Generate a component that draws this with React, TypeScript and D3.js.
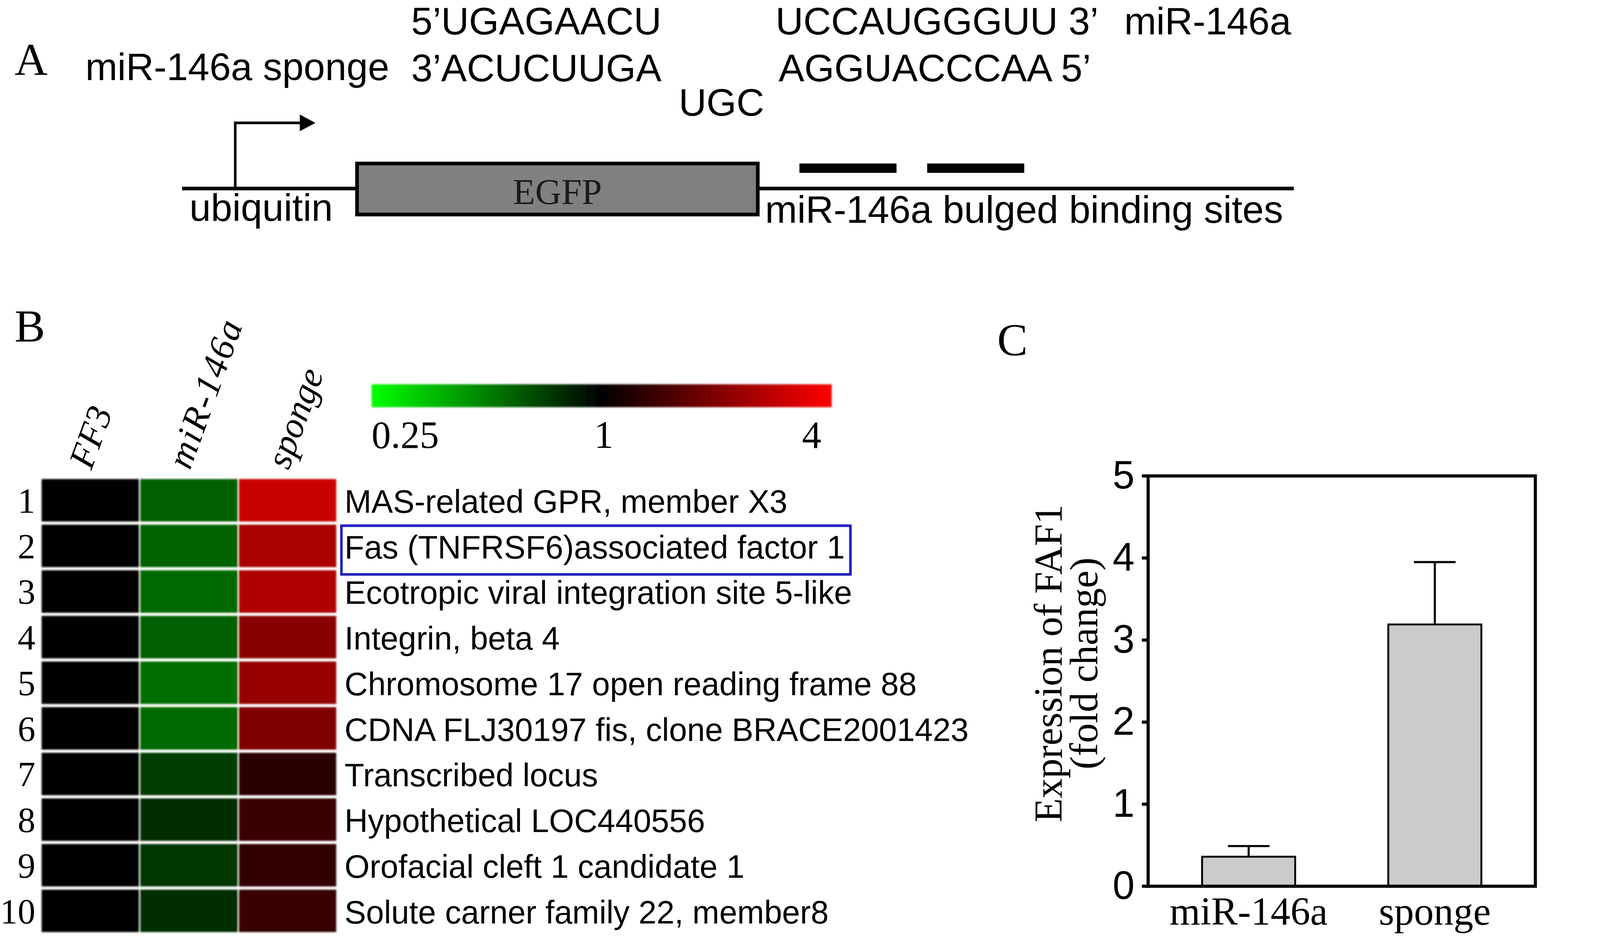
import { range, scaleBand, scaleLinear, scaleLog } from "d3";
import type { ReactElement } from "react";

// ---- panel A: construct labels ----
const SPONGE_NAME = "miR-146a sponge";
const MIR_NAME = "miR-146a";
const MIR_TOP_LEFT = "5\u2019UGAGAACU";
const MIR_TOP_RIGHT = "UCCAUGGGUU 3\u2019";
const SPONGE_BOTTOM_LEFT = "3\u2019ACUCUUGA";
const SPONGE_BOTTOM_RIGHT = "AGGUACCCAA 5\u2019";
const BULGE = "UGC";
const PROMOTER = "ubiquitin";
const REPORTER = "EGFP";
const SITES_LABEL = "miR-146a bulged binding sites";
const BINDING_SITES = [0, 1];

// ---- panel B: heatmap ----
const CONDITIONS = ["FF3", "miR-146a", "sponge"];
const GENES = [
  "MAS-related GPR, member X3",
  "Fas (TNFRSF6)associated factor 1",
  "Ecotropic viral integration site 5-like",
  "Integrin, beta 4",
  "Chromosome 17 open reading frame 88",
  "CDNA FLJ30197 fis, clone BRACE2001423",
  "Transcribed locus",
  "Hypothetical LOC440556",
  "Orofacial cleft 1 candidate 1",
  "Solute carner family 22, member8",
];
const FF3_FOLD = [1, 1, 1, 1, 1, 1, 1, 1, 1, 1];
const MIR146A_FOLD = [0.59, 0.58, 0.56, 0.6, 0.55, 0.56, 0.72, 0.78, 0.74, 0.78];
const SPONGE_FOLD = [2.97, 2.52, 2.6, 2.09, 2.26, 2.01, 1.26, 1.36, 1.3, 1.36];
const LEGEND_TICKS = [0.25, 1, 4];
const HIGHLIGHT_ROW = 1;

// ---- panel C: FAF1 bars ----
const BAR_GROUPS = ["miR-146a", "sponge"];
const BAR_MEANS = [0.36, 3.19];
const BAR_ERRORS = [0.13, 0.76];
const Y_TICKS = [0, 1, 2, 3, 4, 5];

const W = 1560;
const H = (W * 2395) / 4157;
const SANS = "'Liberation Sans', Arial, sans-serif";
const SERIF = "'Liberation Serif', 'Times New Roman', serif";

const colour = scaleLog<string>()
  .base(2)
  .domain([0.25, 1, 4])
  .range(["#00ff00", "#000000", "#ff0000"])
  .clamp(true);

const PanelA = (): ReactElement => {
  const lineY = 181;
  const box = { x0: 343, x1: 728, y0: 157, y1: 206 };
  const siteX = scaleBand<number>().domain(BINDING_SITES).range([768, 984]).paddingInner(0.24);
  const seqSize = 37;

  return (
    <g>
      <text x={14} y={72} fontFamily={SERIF} fontSize={44}>A</text>
      <g fontFamily={SANS} fontSize={seqSize} fill="#000">
        <text x={395} y={33}>{MIR_TOP_LEFT}</text>
        <text x={745} y={33}>{MIR_TOP_RIGHT}</text>
        <text x={1080} y={33}>{MIR_NAME}</text>
        <text x={82} y={77}>{SPONGE_NAME}</text>
        <text x={395} y={78}>{SPONGE_BOTTOM_LEFT}</text>
        <text x={748} y={78}>{SPONGE_BOTTOM_RIGHT}</text>
        <text x={652} y={111}>{BULGE}</text>
        <text x={182} y={212}>{PROMOTER}</text>
        <text x={735} y={214}>{SITES_LABEL}</text>
      </g>

      <line x1={175} x2={box.x0} y1={lineY} y2={lineY} stroke="#000" strokeWidth={3.5} />
      <line x1={box.x1} x2={1243} y1={lineY} y2={lineY} stroke="#000" strokeWidth={3.5} />

      <path d={`M226,${lineY} V118 H291`} fill="none" stroke="#000" strokeWidth={2.5} />
      <path d="M288,110 L303,118 L288,126 Z" fill="#000" />

      <rect
        x={box.x0}
        y={box.y0}
        width={box.x1 - box.x0}
        height={box.y1 - box.y0}
        fill="#808080"
        stroke="#000"
        strokeWidth={3.5}
      />
      <text
        x={(box.x0 + box.x1) / 2}
        y={196}
        textAnchor="middle"
        fontFamily={SERIF}
        fontSize={35}
        fill="#1a1a1a"
      >
        {REPORTER}
      </text>

      {BINDING_SITES.map((s) => (
        <rect key={s} x={siteX(s)} y={157} width={siteX.bandwidth()} height={9} fill="#000" />
      ))}
    </g>
  );
};

const PanelB = (): ReactElement => {
  const rows = scaleBand<number>().domain(range(GENES.length)).range([460, 895]).paddingInner(0.07);
  const cols = scaleBand<string>().domain(CONDITIONS).range([40, 323]).paddingInner(0.015);
  const matrix = [FF3_FOLD, MIR146A_FOLD, SPONGE_FOLD];

  const legendX = scaleLog().base(2).domain([0.25, 4]).range([357, 799]);
  const legendStops = range(0, 1.0001, 0.05).map((t) => ({
    t,
    c: colour(Math.pow(2, -2 + 4 * t)),
  }));

  return (
    <g>
      <defs>
        <filter id="soft" x="-5%" y="-20%" width="110%" height="140%">
          <feGaussianBlur stdDeviation={0.7} />
        </filter>
        <linearGradient id="legend-grad" x1="0" x2="1" y1="0" y2="0">
          {legendStops.map((s) => (
            <stop key={s.t} offset={s.t} stopColor={s.c} />
          ))}
        </linearGradient>
      </defs>

      <text x={14} y={328} fontFamily={SERIF} fontSize={44}>B</text>

      {CONDITIONS.map((c) => {
        const x = (cols(c) ?? 0) + cols.bandwidth() / 2 + 1;
        return (
          <text
            key={c}
            transform={`translate(${x},452) rotate(-70)`}
            fontFamily={SERIF}
            fontStyle="italic"
            fontSize={35}
            letterSpacing={c === "miR-146a" ? 1.5 : 0}
          >
            {c}
          </text>
        );
      })}

      <rect x={legendX(0.25)} y={369} width={legendX(4) - legendX(0.25)} height={22} fill="url(#legend-grad)" filter="url(#soft)" />
      {LEGEND_TICKS.map((t, i) => (
        <text
          key={t}
          x={legendX(t) + (i === 0 ? 0 : i === LEGEND_TICKS.length - 1 ? -10 : 2)}
          y={430}
          textAnchor={i === 0 ? "start" : i === LEGEND_TICKS.length - 1 ? "end" : "middle"}
          fontFamily={SERIF}
          fontSize={37}
        >
          {t}
        </text>
      ))}

      <g filter="url(#soft)">
        {GENES.map((_, r) =>
          CONDITIONS.map((c, ci) => (
            <rect
              key={`${r}-${c}`}
              x={cols(c)}
              y={rows(r)}
              width={cols.bandwidth()}
              height={rows.bandwidth()}
              fill={colour(matrix[ci][r])}
            />
          ))
        )}
      </g>

      {GENES.map((g, r) => {
        const cy = (rows(r) ?? 0) + rows.bandwidth() / 2;
        return (
          <g key={g}>
            <text x={34} y={cy + 12} textAnchor="end" fontFamily={SERIF} fontSize={34}>
              {r + 1}
            </text>
            <text x={331} y={cy + 12} fontFamily={SANS} fontSize={31}>
              {g}
            </text>
          </g>
        );
      })}

      <rect
        x={328}
        y={(rows(HIGHLIGHT_ROW) ?? 0) + 1}
        width={489}
        height={rows.bandwidth() + 6}
        fill="none"
        stroke="#2323c0"
        strokeWidth={2.5}
      />
    </g>
  );
};

const PanelC = (): ReactElement => {
  const left = 1103;
  const right = 1475;
  const y = scaleLinear().domain([0, 5]).range([851, 457]);
  const x = scaleBand<string>().domain(BAR_GROUPS).range([left, right]).paddingInner(0.5).paddingOuter(0.29);
  const capHalf = 20;

  return (
    <g>
      <text x={958} y={341} fontFamily={SERIF} fontSize={44}>C</text>

      {BAR_GROUPS.map((g, i) => {
        const bx = x(g) ?? 0;
        const cx = bx + x.bandwidth() / 2;
        const top = y(BAR_MEANS[i]);
        const errTop = y(BAR_MEANS[i] + BAR_ERRORS[i]);
        return (
          <g key={g}>
            <line x1={cx} x2={cx} y1={top} y2={errTop} stroke="#000" strokeWidth={2} />
            <line x1={cx - capHalf} x2={cx + capHalf} y1={errTop} y2={errTop} stroke="#000" strokeWidth={2} />
            <rect x={bx} y={top} width={x.bandwidth()} height={y(0) - top} fill="#cbcbcb" stroke="#000" strokeWidth={1.8} />
            <text x={cx} y={888} textAnchor="middle" fontFamily={SERIF} fontSize={38}>
              {g}
            </text>
          </g>
        );
      })}

      <rect x={left} y={y(5)} width={right - left} height={y(0) - y(5)} fill="none" stroke="#000" strokeWidth={3} />

      {Y_TICKS.map((t) => (
        <g key={t}>
          <line x1={left - 6} x2={left} y1={y(t)} y2={y(t)} stroke="#000" strokeWidth={3} />
          <text x={1090} y={y(t) + 12} textAnchor="end" fontFamily={SANS} fontSize={38}>
            {t}
          </text>
        </g>
      ))}

      <text transform="translate(1020,637) rotate(-90)" textAnchor="middle" fontFamily={SERIF} fontSize={38}>
        Expression of FAF1
      </text>
      <text transform="translate(1054,637) rotate(-90)" textAnchor="middle" fontFamily={SERIF} fontSize={38}>
        (fold change)
      </text>
    </g>
  );
};

export default function App(): ReactElement {
  return (
    <svg
      width={4157}
      height={2395}
      viewBox={`0 0 ${W} ${H}`}
      style={{ position: "absolute", left: 0, top: 0, background: "#fff" }}
    >
      <rect x={0} y={0} width={W} height={H} fill="#fff" />
      <PanelA />
      <PanelB />
      <PanelC />
    </svg>
  );
}
